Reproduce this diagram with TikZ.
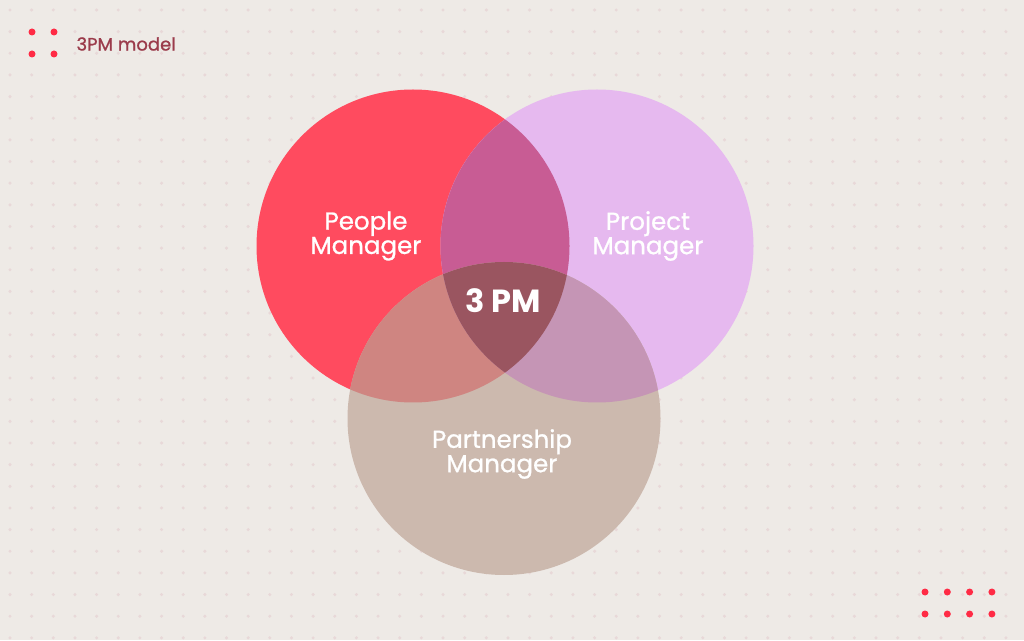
\documentclass[tikz,border=0pt]{standalone}
\usepackage{fontspec}
\setmainfont{Poppins}
\newfontfamily\medfont{Poppins}[FakeBold=1]
\usepackage{tikz}
\usetikzlibrary{positioning}

\definecolor{bgcol}{HTML}{EEEAE6}
\definecolor{gridcol}{HTML}{E8D8D8}
\definecolor{dotred}{HTML}{FF2B45}
\definecolor{titlecol}{HTML}{9B3B4B}
\definecolor{peoplecol}{HTML}{FF4B5F}
\definecolor{projectcol}{HTML}{E6B9EF}
\definecolor{partnercol}{HTML}{CCB9AE}
\definecolor{peoprojcol}{HTML}{C85C94}
\definecolor{peoparcol}{HTML}{CF8581}
\definecolor{projparcol}{HTML}{C595B5}
\definecolor{allcol}{HTML}{9A5560}

\tikzset{
	label/.style={text=white, align=center, font=\medfont\fontsize{24.5}{21.5}\selectfont},
	reddot/.style={fill=dotred, circle, inner sep=0pt, minimum size=7pt},
}

\begin{document}
\begin{tikzpicture}[x=1pt, y=1pt]
		\useasboundingbox (0,0) rectangle (1024,640);
		\fill[bgcol] (0,0) rectangle (1024,640);
		% background dots
		\foreach \i in {0,...,46}
			\foreach \j in {0,...,29}
				\fill[gridcol] (10+21.65*\i, 630-21.65*\j) circle (1.7);
		% corner dots
		\node[reddot] (tl1) at (32,608) {};
		\node[reddot] (tl2) at (54,608) {};
		\node[reddot] (tl3) at (32,586) {};
		\node[reddot] (tl4) at (54,586) {};
		\foreach \i in {0,...,3} {
			\node[reddot] (br1\i) at (925+22.3*\i,48) {};
			\node[reddot] (br2\i) at (925+22.3*\i,26) {};
		}
		\node[anchor=west, text=titlecol, font=\medfont\fontsize{18}{20}\selectfont] (title) at (73,596) {3PM model};
		% circles
		\def\people{(413,394) circle (156.5)}
		\def\project{(597,394) circle (156.5)}
		\def\partner{(504,221.5) circle (156.5)}
		\fill[peoplecol] \people;
		\fill[projectcol] \project;
		\fill[partnercol] \partner;
		\begin{scope}
			\clip \people;
			\fill[peoprojcol] \project;
			\fill[peoparcol] \partner;
		\end{scope}
		\begin{scope}
			\clip \project;
			\fill[projparcol] \partner;
		\end{scope}
		\begin{scope}
			\clip \people;
			\clip \project;
			\fill[allcol] \partner;
		\end{scope}
		% labels
		\node[label] (peop) at (366,404) {People\\Manager};
		\node[label] (proj) at (648,404) {Project\\Manager};
		\node[label] (part) at (502,186) {Partnership\\Manager};
		\node[text=white, font=\fontsize{32}{32}\selectfont\bfseries] (pm) at (503,339) {3 PM};
	\end{tikzpicture}
\end{document}
